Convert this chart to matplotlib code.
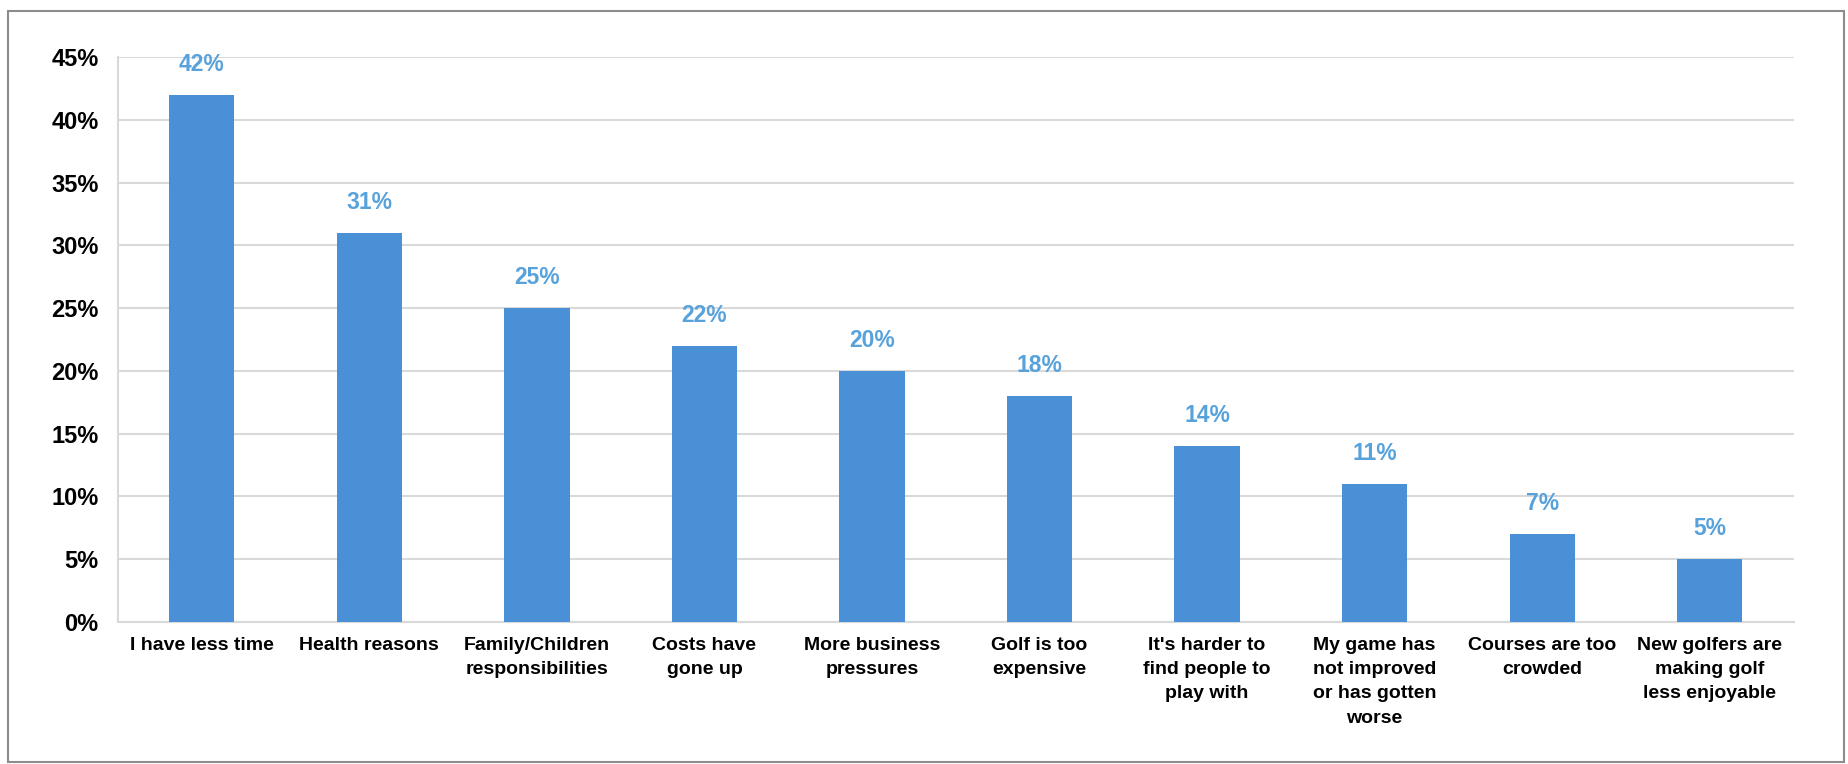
import numpy as np
import matplotlib
matplotlib.use('Agg')
import matplotlib.pyplot as plt
from matplotlib.patches import Rectangle
from matplotlib.ticker import FuncFormatter

# survey answers (share of respondents, %)
categories = ['I have less time', 'Health reasons', 'Family/Children\nresponsibilities',
              'Costs have\ngone up', 'More business\npressures', 'Golf is too\nexpensive',
              "It's harder to\nfind people to\nplay with",
              'My game has\nnot improved\nor has gotten\nworse',
              'Courses are too\ncrowded', 'New golfers are\nmaking golf\nless enjoyable']
values = [42, 31, 25, 22, 20, 18, 14, 11, 7, 5]
y_ticks = [0, 5, 10, 15, 20, 25, 30, 35, 40, 45]

bar_color = '#4a90d6'
label_color = '#58a2dc'
grid_color = '#d9d9d9'

plt.rcParams['font.family'] = ['Liberation Sans', 'DejaVu Sans']

fig = plt.figure(figsize=(18.49, 7.64), dpi=100)
ax = fig.add_axes([0.0638, 0.186, 0.9062, 0.739])

x = np.arange(len(categories))
bars = ax.bar(x, values, width=0.39, color=bar_color, zorder=3)
for xi, v in zip(x, values):
    ax.text(xi, v + 1.5, f'{v}%', ha='center', va='bottom', color=label_color,
            fontsize=16.5, fontweight='bold')

ax.set_xlim(-0.5, len(categories) - 0.5)
ax.set_ylim(0, 45)
ax.set_yticks(y_ticks)
ax.yaxis.set_major_formatter(FuncFormatter(lambda v, p: f'{int(v)}%'))
ax.set_xticks(x)
ax.set_xticklabels(categories, fontsize=14, fontweight='bold', linespacing=1.55)
for lab in ax.get_yticklabels():
    lab.set_fontsize(17)
    lab.set_fontweight('bold')
ax.tick_params(axis='both', length=0)
ax.tick_params(axis='y', pad=14)
ax.tick_params(axis='x', pad=11)
ax.grid(axis='y', color=grid_color, linewidth=1.5, zorder=0)

for s in ['top', 'right']:
    ax.spines[s].set_visible(False)
for s in ['left', 'bottom']:
    ax.spines[s].set_color(grid_color)
    ax.spines[s].set_linewidth(1.5)

# outer frame around the chart
fig.patches.append(Rectangle((8 / 1849, 2 / 764), 1836 / 1849, 751 / 764,
                             transform=fig.transFigure, fill=False,
                             edgecolor='#8c8c8c', linewidth=1.5))

fig.savefig('out.png', dpi=100)
